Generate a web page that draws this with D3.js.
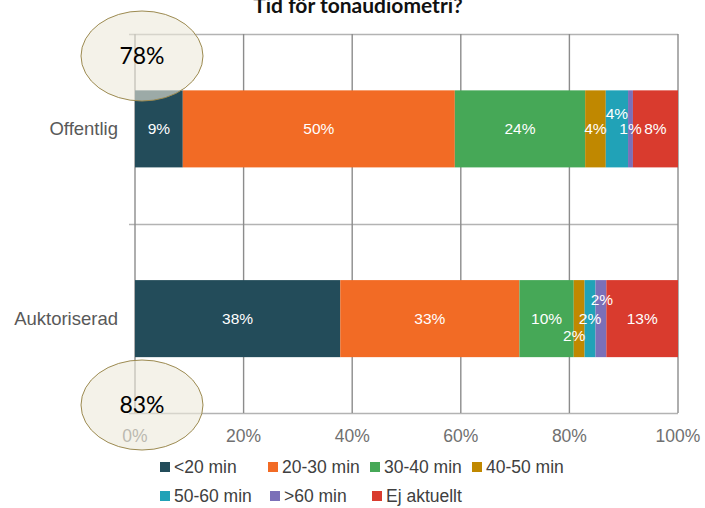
<!DOCTYPE html>
<html>
<head>
<meta charset="utf-8">
<script src="https://cdn.jsdelivr.net/npm/d3@7"></script>
<style>
  body { margin: 0; background: #fff; }
  svg { display: block; }
</style>
</head>
<body>
<div id="chart"></div>
<script>
const categories = ['Offentlig', 'Auktoriserad']
const seriesNames = ['<20 min', '20-30 min', '30-40 min', '40-50 min', '50-60 min', '>60 min', 'Ej aktuellt']
const offentlig = [8.8, 50.1, 24, 3.8, 4.1, 0.9, 8.3]
const auktoriserad = [37.8, 33, 10, 2, 2, 2, 13.2]
const offentligLabels = ['9%', '50%', '24%', '4%', '4%', '1%', '8%']
const auktoriseradLabels = ['38%', '33%', '10%', '2%', '2%', '2%', '13%']
const xTicks = [0, 20, 40, 60, 80, 100]
const bubbleLabels = ['78%', '83%']
const colors = ['#234c5a', '#f26b25', '#46a857', '#c08800', '#21a2b7', '#7b70b8', '#d93b2e']

const width = 705
const height = 508
const margin = { top: 34, right: 27, bottom: 95, left: 135 }
const labelFont = '"Liberation Sans", Arial, sans-serif'

const svg = d3.select('#chart')
  .append('svg')
  .attr('width', width)
  .attr('height', height)

const x = d3.scaleLinear()
  .domain([0, 100])
  .range([margin.left, width - margin.right])

const y = d3.scaleBand()
  .domain(categories)
  .range([margin.top, height - margin.bottom + 0.5])
  .paddingInner(0.594)
  .paddingOuter(0.297)

// stacked rows
const rows = categories.map((cat, i) => {
  const vals = i === 0 ? offentlig : auktoriserad
  const labels = i === 0 ? offentligLabels : auktoriseradLabels
  let acc = 0
  return seriesNames.map((name, j) => {
    const seg = { cat, name, j, x0: acc, x1: acc + vals[j], label: labels[j] }
    acc += vals[j]
    return seg
  })
})

// label nudges for the small segments (like Excel does)
const labelShift = {
  Offentlig: { 4: [0, -15] },
  Auktoriserad: { 3: [-5, 17], 5: [1, -19] }
}

// title (cut at the top edge, as in the original)
svg.append('text')
  .attr('x', 358)
  .attr('y', 13)
  .attr('text-anchor', 'middle')
  .style('font-family', 'Lato, sans-serif')
  .style('font-weight', 'bold')
  .style('font-size', '21px')
  .attr('fill', '#111')
  .text('Tid för tonaudiometri?')

// category separators
const bounds = [margin.top, (y('Offentlig') + y('Auktoriserad') + y.bandwidth()) / 2, height - margin.bottom]
svg.append('g')
  .selectAll('line')
  .data(bounds)
  .join('line')
  .attr('x1', margin.left - 6)
  .attr('x2', x(100))
  .attr('y1', d => Math.round(d) + 0.5)
  .attr('y2', d => Math.round(d) + 0.5)
  .attr('stroke', '#b3b3b3')
  .attr('stroke-width', 1.3)

// vertical gridlines
svg.append('g')
  .selectAll('line')
  .data(xTicks)
  .join('line')
  .attr('x1', d => x(d))
  .attr('x2', d => x(d))
  .attr('y1', margin.top)
  .attr('y2', height - margin.bottom)
  .attr('stroke', '#8c8c8c')
  .attr('stroke-width', 1.4)

// bars
const g = svg.append('g')
g.selectAll('g.row')
  .data(rows)
  .join('g')
  .selectAll('rect')
  .data(d => d)
  .join('rect')
  .attr('x', d => x(d.x0))
  .attr('width', d => x(d.x1) - x(d.x0))
  .attr('y', d => y(d.cat))
  .attr('height', y.bandwidth())
  .attr('fill', d => colors[d.j])

g.selectAll('text.lbl')
  .data(rows.flat())
  .join('text')
  .attr('class', 'lbl')
  .attr('x', d => (x(d.x0) + x(d.x1)) / 2 + ((labelShift[d.cat][d.j] || [0, 0])[0]))
  .attr('y', d => y(d.cat) + y.bandwidth() / 2 + ((labelShift[d.cat][d.j] || [0, 0])[1]))
  .attr('dy', '0.35em')
  .attr('text-anchor', 'middle')
  .style('font-family', labelFont)
  .style('font-size', '15.5px')
  .attr('fill', '#fff')
  .text(d => d.label)

// category labels
svg.append('g')
  .selectAll('text')
  .data(categories)
  .join('text')
  .attr('x', 118)
  .attr('y', d => y(d) + y.bandwidth() / 2)
  .attr('dy', '0.35em')
  .attr('text-anchor', 'end')
  .style('font-family', labelFont)
  .style('font-size', '18.5px')
  .attr('fill', '#595959')
  .text(d => d)

// x tick labels
svg.append('g')
  .selectAll('text')
  .data(xTicks)
  .join('text')
  .attr('x', d => x(d))
  .attr('y', height - margin.bottom + 23)
  .attr('dy', '0.35em')
  .attr('text-anchor', 'middle')
  .style('font-family', labelFont)
  .style('font-size', '17.5px')
  .attr('fill', '#707070')
  .text(d => d + '%')

// legend
const legendPos = [
  [160, 467], [268, 467], [370, 467], [472, 467],
  [160, 496], [270, 496], [372, 496]
]
const legend = svg.append('g')
  .selectAll('g')
  .data(seriesNames)
  .join('g')
  .attr('transform', (d, i) => `translate(${legendPos[i][0]}, ${legendPos[i][1]})`)
legend.append('rect')
  .attr('x', 0)
  .attr('y', -5)
  .attr('width', 10)
  .attr('height', 10)
  .attr('fill', (d, i) => colors[i])
legend.append('text')
  .attr('x', 14)
  .attr('dy', '0.35em')
  .style('font-family', labelFont)
  .style('font-size', '17.5px')
  .attr('fill', '#404040')
  .text(d => d)

// highlight bubbles on top
const bubbles = svg.append('g')
  .selectAll('g')
  .data(bubbleLabels)
  .join('g')
  .attr('transform', (d, i) => `translate(142, ${i === 0 ? 56 : 405})`)
bubbles.append('ellipse')
  .attr('rx', 61)
  .attr('ry', 45)
  .attr('fill', '#ece9db')
  .attr('fill-opacity', 0.6)
  .attr('stroke', '#9c8a50')
  .attr('stroke-width', 1)
bubbles.append('text')
  .attr('dy', '0.35em')
  .attr('text-anchor', 'middle')
  .style('font-family', 'Lato, sans-serif')
  .style('font-size', '23px')
  .attr('fill', '#000')
  .text(d => d)
</script>
</body>
</html>
